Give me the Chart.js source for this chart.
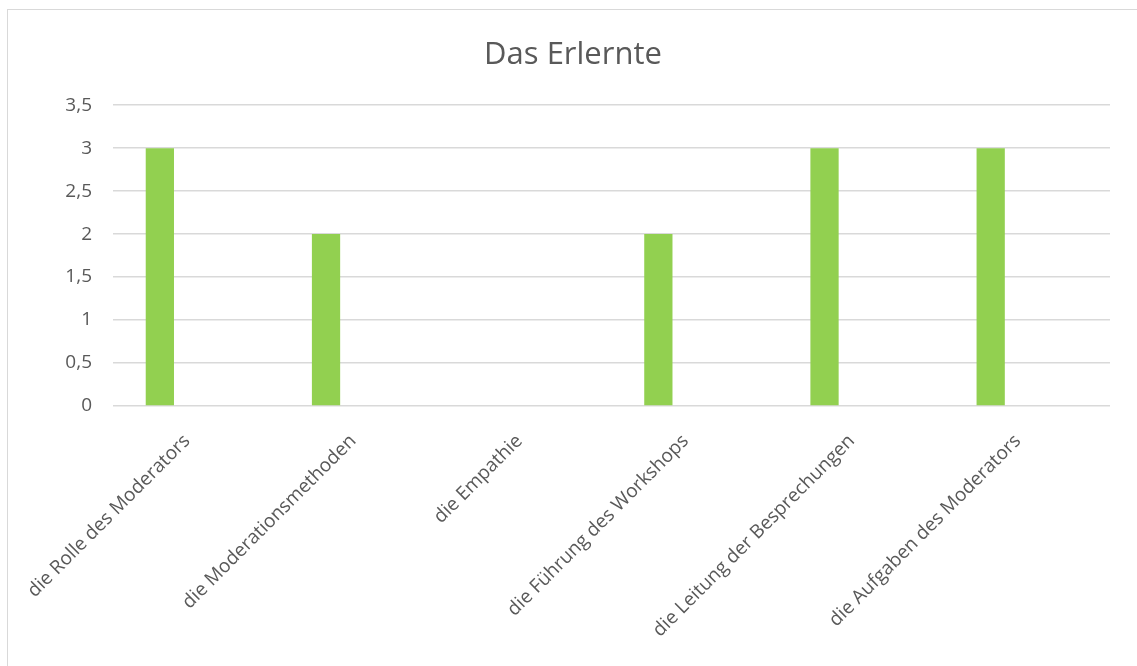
<!DOCTYPE html>
<html>
<head>
<meta charset="utf-8">
<script src="https://cdn.jsdelivr.net/npm/chart.js@4/dist/chart.umd.min.js"></script>
<style>
    html, body { margin: 0; padding: 0; background: #fff; overflow: hidden; }
    #wrap { position: relative; width: 1137px; height: 666px; }
    #frame {
        position: absolute; left: 7px; top: 9px; width: 1200px; height: 700px;
        border: 1px solid #d9d9d9; box-sizing: border-box;
    }
    #chart { position: absolute; left: 0; top: 0; }
</style>
</head>
<body>
<div id="wrap">
    <div id="frame"></div>
    <canvas id="chart" width="1137" height="666"></canvas>
</div>
<script>
const topics = [
    'die Rolle des Moderators',
    'die Moderationsmethoden',
    'die Empathie',
    'die Führung des Workshops',
    'die Leitung der Besprechungen',
    'die Aufgaben des Moderators',
];
const counts = [3, 2, 0, 2, 3, 3];
// the sheet had two more columns in the range, left blank
const blankColumnB = [null, null, null, null, null, null];
const blankColumnC = [null, null, null, null, null, null];
const chartTitle = 'Das Erlernte';

(function () {
    const ctx = document.getElementById('chart');
    const textColor = '#595959';
    const font = '"Open Sans", "Liberation Sans", sans-serif';

    function series(data) {
        return {
            data: data,
            backgroundColor: '#92d050',
            barPercentage: 0.78,
            categoryPercentage: 0.654,
        };
    }

    new Chart(ctx, {
        type: 'bar',
        data: {
            labels: topics,
            datasets: [series(counts), series(blankColumnB), series(blankColumnC)],
        },
        options: {
            responsive: false,
            animation: false,
            // side padding keeps the title centred on the whole frame
            layout: { padding: { left: 36, right: 27, top: 0, bottom: 0 } },
            plugins: {
                legend: { display: false },
                tooltip: { enabled: false },
                title: {
                    display: true,
                    text: chartTitle,
                    color: textColor,
                    font: { family: font, size: 31, weight: 'normal' },
                    padding: { top: 37, bottom: 31 },
                },
            },
            scales: {
                x: {
                    grid: { display: false },
                    border: { display: false },
                    ticks: {
                        color: textColor,
                        font: { family: font, size: 19 },
                        minRotation: 45,
                        maxRotation: 45,
                        labelOffset: -9,
                        padding: 16,
                        autoSkip: false,
                    },
                    afterFit: (axis) => { axis.height = 260; },
                },
                y: {
                    min: 0,
                    max: 3.5,
                    grid: { color: '#d9d9d9', lineWidth: 1.5, drawTicks: false },
                    border: { display: false },
                    ticks: {
                        stepSize: 0.5,
                        color: textColor,
                        font: { family: font, size: 19 },
                        padding: 21,
                        callback: (v) => String(v).replace('.', ','),
                    },
                    afterFit: (axis) => { axis.width = 77; },
                },
            },
        },
    });
})();
</script>
</body>
</html>
